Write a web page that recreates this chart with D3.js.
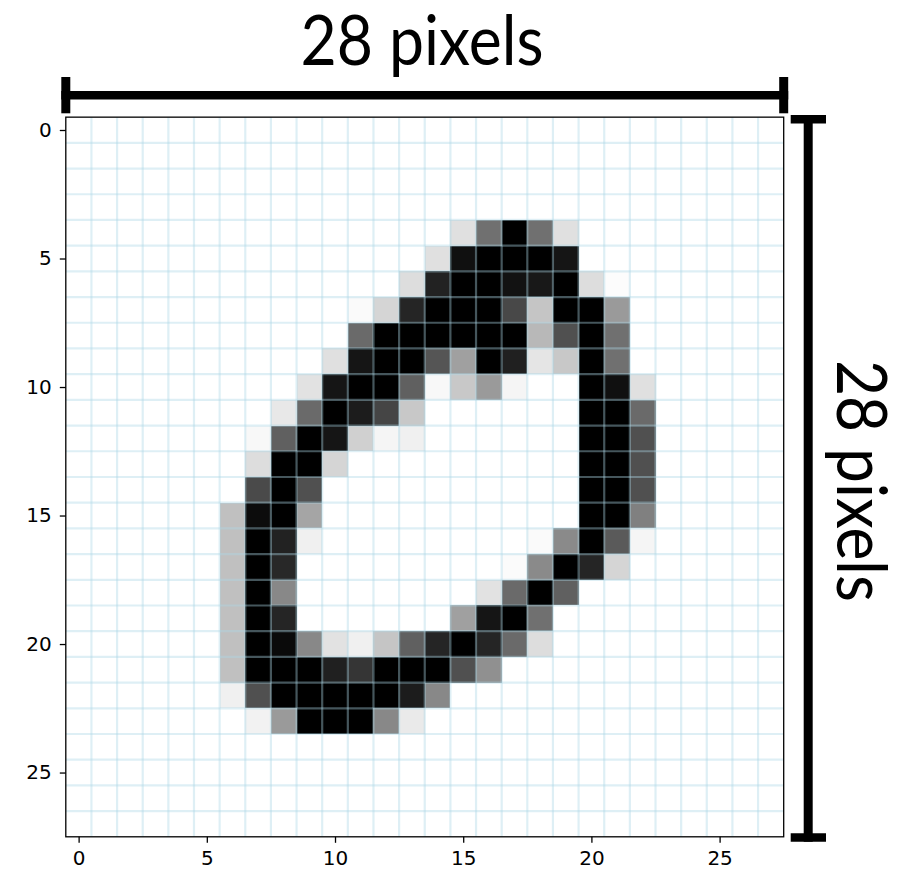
<!DOCTYPE html>
<html>
<head>
<meta charset="utf-8">
<script src="https://cdn.jsdelivr.net/npm/d3@7"></script>
<style>
  html, body { margin: 0; padding: 0; background: #ffffff; }
  svg { display: block; }
</style>
</head>
<body>
<svg id="chart" width="906" height="869"></svg>
<script>
// ---- data ----
const titleText = "28 pixels";
const xTicks = [0, 5, 10, 15, 20, 25];
const yTicks = [0, 5, 10, 15, 20, 25];
// 28 x 28 pixel intensities (0 = white, 255 = black), row by row
const pixelRows = [
  [0,0,0,0,0,0,0,0,0,0,0,0,0,0,0,0,0,0,0,0,0,0,0,0,0,0,0,0],
  [0,0,0,0,0,0,0,0,0,0,0,0,0,0,0,0,0,0,0,0,0,0,0,0,0,0,0,0],
  [0,0,0,0,0,0,0,0,0,0,0,0,0,0,0,0,0,0,0,0,0,0,0,0,0,0,0,0],
  [0,0,0,0,0,0,0,0,0,0,0,0,0,0,0,0,0,0,0,0,0,0,0,0,0,0,0,0],
  [0,0,0,0,0,0,0,0,0,0,0,0,0,0,0,31,143,255,143,31,0,0,0,0,0,0,0,0],
  [0,0,0,0,0,0,0,0,0,0,0,0,0,0,31,239,255,255,255,234,0,0,0,0,0,0,0,0],
  [0,0,0,0,0,0,0,0,0,0,0,0,0,34,221,255,255,237,231,255,34,3,0,0,0,0,0,0],
  [0,0,0,0,0,0,0,0,0,0,0,5,42,218,255,255,255,183,58,255,255,101,0,0,0,0,0,0],
  [0,0,0,0,0,0,0,0,0,0,0,149,255,255,255,255,255,255,71,175,255,143,0,0,0,0,0,0],
  [0,0,0,0,0,0,0,0,0,0,31,234,255,255,170,95,255,223,26,55,255,143,0,0,0,0,0,0],
  [0,0,0,0,0,0,0,0,0,29,234,255,255,159,7,55,101,10,0,0,255,239,31,0,0,0,0,0],
  [0,0,0,0,0,0,0,0,23,149,255,227,186,55,0,0,0,0,0,0,255,255,149,0,0,0,0,0],
  [0,0,0,0,0,0,0,7,159,255,234,47,10,15,0,0,0,0,0,0,255,255,175,0,0,0,0,0],
  [0,0,0,0,0,0,0,34,255,255,42,0,0,0,0,0,0,0,0,0,255,255,175,0,0,0,0,0],
  [0,0,0,0,0,0,0,181,255,175,0,0,0,0,0,0,0,0,0,0,255,255,175,0,0,0,0,0],
  [0,0,0,0,0,0,63,243,255,90,0,0,0,0,0,0,0,0,0,0,255,255,127,0,0,0,0,0],
  [0,0,0,0,0,0,63,255,221,15,0,0,0,0,0,0,0,0,5,117,255,165,10,0,0,0,0,0],
  [0,0,0,0,0,0,63,255,215,0,0,0,0,0,0,0,0,4,117,255,218,42,0,0,0,0,0,0],
  [0,0,0,0,0,0,63,255,119,0,0,0,0,0,0,0,29,149,255,159,0,0,0,0,0,0,0,0],
  [0,0,0,0,0,0,63,255,218,0,0,0,0,0,0,95,234,255,143,0,0,0,0,0,0,0,0,0],
  [0,0,0,0,0,0,63,255,245,119,29,15,58,159,218,255,218,149,34,0,0,0,0,0,0,0,0,0],
  [0,0,0,0,0,0,63,255,255,255,223,202,255,255,255,175,111,0,0,0,0,0,0,0,0,0,0,0],
  [0,0,0,0,0,0,15,175,255,255,255,255,255,227,119,0,0,0,0,0,0,0,0,0,0,0,0,0],
  [0,0,0,0,0,0,0,13,101,255,255,255,119,21,0,0,0,0,0,0,0,0,0,0,0,0,0,0],
  [0,0,0,0,0,0,0,0,0,0,0,0,0,0,0,0,0,0,0,0,0,0,0,0,0,0,0,0],
  [0,0,0,0,0,0,0,0,0,0,0,0,0,0,0,0,0,0,0,0,0,0,0,0,0,0,0,0],
  [0,0,0,0,0,0,0,0,0,0,0,0,0,0,0,0,0,0,0,0,0,0,0,0,0,0,0,0],
  [0,0,0,0,0,0,0,0,0,0,0,0,0,0,0,0,0,0,0,0,0,0,0,0,0,0,0,0]
];

// ---- layout ----
const N = pixelRows.length;
const plot = { left: 65.8, right: 783.7, top: 117.15, bottom: 836.8 };
const svg = d3.select("#chart");

const x = d3.scaleLinear().domain([-0.5, N - 0.5]).range([plot.left, plot.right]);
const y = d3.scaleLinear().domain([-0.5, N - 0.5]).range([plot.top, plot.bottom]);
const color = d3.scaleLinear().domain([0, 255]).range(["#ffffff", "#000000"]);

// white background
svg.append("rect").attr("width", 906).attr("height", 869).attr("fill", "#ffffff");

// pixel cells
const cells = [];
pixelRows.forEach((row, r) => row.forEach((v, c) => cells.push({ r, c, v })));
svg.append("g").selectAll("rect").data(cells).join("rect")
  .attr("x", d => x(d.c - 0.5))
  .attr("y", d => y(d.r - 0.5))
  .attr("width", x(1) - x(0) + 0.3)
  .attr("height", y(1) - y(0) + 0.3)
  .attr("fill", d => color(d.v))
  .attr("shape-rendering", "crispEdges");

// grid lines at pixel boundaries (on top of image)
const bounds = d3.range(0, N - 1).map(k => k + 0.5);
const grid = svg.append("g")
  .attr("stroke", "#add8e6").attr("stroke-opacity", 0.4).attr("stroke-width", 2.2);
grid.selectAll("line.v").data(bounds).join("line").attr("class", "v")
  .attr("x1", d => x(d)).attr("x2", d => x(d))
  .attr("y1", plot.top).attr("y2", plot.bottom);
grid.selectAll("line.h").data(bounds).join("line").attr("class", "h")
  .attr("y1", d => y(d)).attr("y2", d => y(d))
  .attr("x1", plot.left).attr("x2", plot.right);

// axes
const fontAxis = "'DejaVu Sans', sans-serif";
const gx = svg.append("g").attr("transform", `translate(0,${plot.bottom})`)
  .call(d3.axisBottom(x).tickValues(xTicks).tickSize(6).tickSizeOuter(0).tickPadding(8));
const gy = svg.append("g").attr("transform", `translate(${plot.left},0)`)
  .call(d3.axisLeft(y).tickValues(yTicks).tickSize(6).tickSizeOuter(0).tickPadding(8));
[gx, gy].forEach(g => {
  g.select(".domain").remove();
  g.selectAll(".tick line").attr("stroke", "#000").attr("stroke-width", 1.3);
  g.selectAll(".tick text").attr("fill", "#000")
    .style("font-family", fontAxis).style("font-size", "20px");
});

// frame (spines)
svg.append("rect")
  .attr("x", plot.left).attr("y", plot.top)
  .attr("width", plot.right - plot.left).attr("height", plot.bottom - plot.top)
  .attr("fill", "none").attr("stroke", "#000").attr("stroke-width", 1.3);

// horizontal bracket
const bk = svg.append("g").attr("stroke", "#000").attr("stroke-linecap", "butt");
const hY = 95.3, capW = 9;
bk.append("line").attr("x1", plot.left - capW / 2).attr("x2", plot.right + capW / 2)
  .attr("y1", hY).attr("y2", hY).attr("stroke-width", 8.6);
[plot.left, plot.right].forEach(px => {
  bk.append("line").attr("x1", px).attr("x2", px)
    .attr("y1", 77).attr("y2", 113.3).attr("stroke-width", capW);
});

// vertical bracket
const vX = 808.2;
bk.append("line").attr("x1", vX).attr("x2", vX)
  .attr("y1", 115).attr("y2", 841.7).attr("stroke-width", 9);
[119.2, 837.5].forEach(py => {
  bk.append("line").attr("x1", 790.7).attr("x2", 826)
    .attr("y1", py).attr("y2", py).attr("stroke-width", 8.4);
});

// titles
const fontTitle = "Lato, 'Open Sans', sans-serif";
svg.append("text")
  .attr("x", 422).attr("y", 65)
  .attr("text-anchor", "middle")
  .attr("textLength", 243).attr("lengthAdjust", "spacingAndGlyphs")
  .style("font-family", fontTitle).style("font-size", "70px").attr("fill", "#000")
  .text(titleText);
svg.append("text")
  .attr("transform", "translate(837,481) rotate(90)")
  .attr("text-anchor", "middle")
  .attr("textLength", 242).attr("lengthAdjust", "spacingAndGlyphs")
  .style("font-family", fontTitle).style("font-size", "70px").attr("fill", "#000")
  .text(titleText);
</script>
</body>
</html>
